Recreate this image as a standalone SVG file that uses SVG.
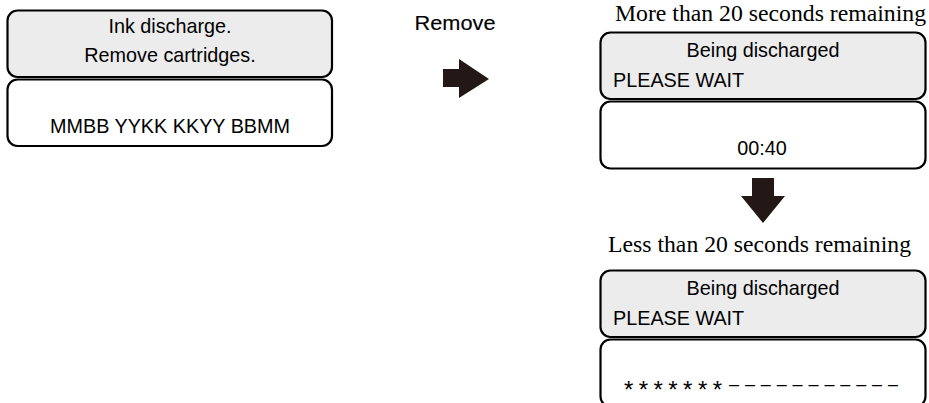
<svg xmlns="http://www.w3.org/2000/svg" width="929" height="403" viewBox="0 0 929 403">
<style>
.hd{fill:#ececec;stroke:#000;stroke-width:2.2}
.bd{fill:#fff;stroke:#000;stroke-width:2.2}
.s{font-family:"Liberation Sans",Arial,sans-serif;font-size:19.8px;fill:#000}
.c{text-anchor:middle}
.t{font-family:"Liberation Serif","Times New Roman",serif;font-size:22.5px;fill:#000}
.ar{fill:#231815}
</style>
<rect width="929" height="403" fill="#fff"/>
<g id="panel-start">
<rect class="hd" x="7.5" y="10.5" width="324.5" height="66.5" rx="10"/>
<rect class="bd" x="7.5" y="79.5" width="324.5" height="66.5" rx="10"/>
<text class="s c" x="170" y="33">Ink discharge.</text>
<text class="s c" x="170" y="62">Remove cartridges.</text>
<text class="s c" x="170" y="133">MMBB YYKK KKYY BBMM</text>
</g>
<g id="panel-more">
<text class="t" x="615" y="20.5" textLength="311" lengthAdjust="spacingAndGlyphs">More than 20 seconds remaining</text>
<rect class="hd" x="600.5" y="32.5" width="325" height="66.5" rx="10"/>
<rect class="bd" x="600.5" y="101.5" width="325" height="67" rx="10"/>
<text class="s c" x="763" y="57">Being discharged</text>
<text class="s" x="613" y="87">PLEASE WAIT</text>
<text class="s c" x="762" y="155">00:40</text>
</g>
<g id="panel-less">
<text class="t" x="608" y="252" textLength="303" lengthAdjust="spacingAndGlyphs">Less than 20 seconds remaining</text>
<rect class="hd" x="600.5" y="270.5" width="325" height="66.5" rx="10"/>
<rect class="bd" x="600.5" y="339.5" width="325" height="67" rx="10"/>
<text class="s c" x="763" y="295">Being discharged</text>
<text class="s" x="613" y="325">PLEASE WAIT</text>
<text class="s" x="624" y="398" style="font-size:24px" textLength="98" lengthAdjust="spacing">* * * * * * *</text>
<text class="s" x="729" y="390" style="font-size:18px" textLength="169" lengthAdjust="spacing">– – – – – – – – – – –</text>
</g>
<g id="connectors">
<text class="s c" x="455" y="30" textLength="81" lengthAdjust="spacingAndGlyphs" style="stroke:#000;stroke-width:0.15">Remove</text>
<polygon class="ar" points="443,69 459,69 459,59 489,79 459,98 459,87 443,87"/>
<polygon class="ar" points="752,178 774,178 774,196 785,196 763,223 741,196 752,196"/>
</g>
</svg>
